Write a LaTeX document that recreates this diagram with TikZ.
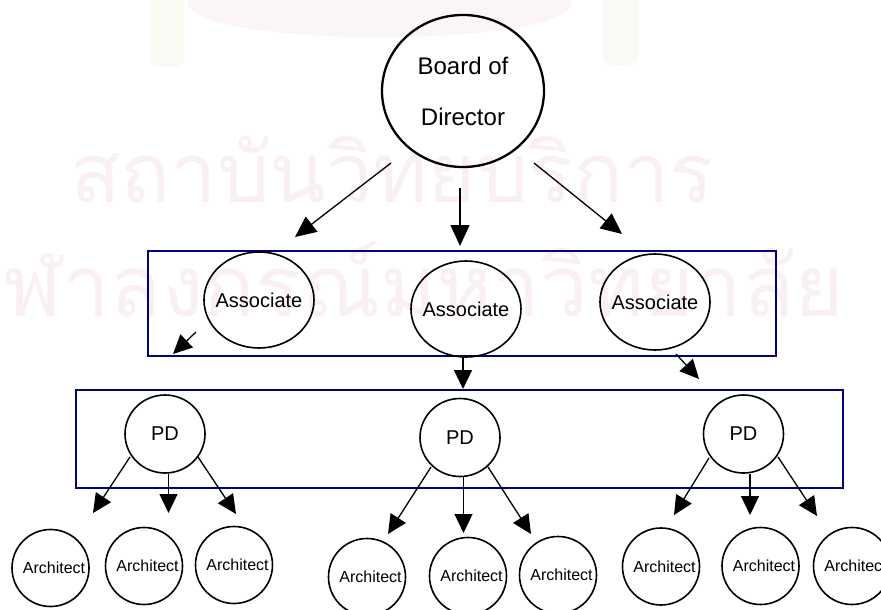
\documentclass[tikz,border=0pt]{standalone}
\usepackage{fontspec}
\setmainfont{Liberation Sans}
\newfontfamily\thaifont[Script=Thai]{Loma}
\usetikzlibrary{shapes.geometric,arrows.meta}

\definecolor{boxblue}{RGB}{0,0,128}
\definecolor{wmpink}{RGB}{250,240,244}
\definecolor{crestpink}{RGB}{252,245,247}
\definecolor{crestbeige}{RGB}{251,249,243}

\newlength\wmwidth
\newcommand\wmlineone{สถาบันวิทยบริการ}
\newcommand\wmlinetwo{จุฬาลงกรณ์มหาวิทยาลัย}

\tikzset{
  oval/.style={draw=black, ellipse, line width=1.6pt, inner sep=0pt},
  boardoval/.style={oval, line width=2.3pt, align=center,
    minimum width=162pt, minimum height=152pt, font=\fontsize{24}{51}\selectfont},
  assocoval/.style={oval, inner xsep=-14pt, minimum width=110pt, minimum height=96pt,
    font=\fontsize{20}{24}\selectfont},
  pdoval/.style={oval, minimum width=80pt, minimum height=78pt,
    font=\fontsize{20}{24}\selectfont},
  archoval/.style={oval, inner xsep=-14pt, minimum width=77pt, minimum height=77pt,
    font=\fontsize{16}{19}\selectfont, execute at begin node={\hspace*{7pt}}},
  groupbox/.style={draw=boxblue, line width=2pt, rectangle, inner sep=0pt},
  link/.style={line width=1.3pt, -{Triangle[length=19pt,width=18pt]}},
  biglink/.style={line width=1.3pt, -{Triangle[length=21pt,width=19pt]}},
  watermark/.style={text=wmpink, inner sep=0pt},
}

\begin{document}
\settowidth{\wmwidth}{\thaifont\wmlineone}
\pgfmathsetmacro\wmscale{644/\wmwidth}
\pgfmathsetmacro\wmscaletwo{1.03*\wmscale}
\begin{tikzpicture}[x=1pt,y=-1pt]
\useasboundingbox (0,0) rectangle (881,610);
\clip (0,0) rectangle (881,610);

% faint crest and institute name behind the chart
\fill[crestpink] (188,0) -- (188,5) .. controls (205,48) and (555,48) .. (572,5) -- (572,0) -- cycle;
\fill[crestbeige, rounded corners=8pt] (150,-10) rectangle (184,67);
\fill[crestbeige, rounded corners=8pt] (603,-10) rectangle (638,65);
\node[watermark, anchor=base west] (wmtop) at (70,202)
  {\scalebox{\wmscale}{\thaifont\wmlineone}};
\node[watermark, anchor=base east] (wmbottom) at (845,316)
  {\scalebox{\wmscaletwo}{\thaifont\wmlinetwo}};

% group frames
\node[groupbox, minimum width=628pt, minimum height=105pt] (assocgroup) at (462,303.5) {};
\node[groupbox, minimum width=767pt, minimum height=98pt] (pdgroup) at (459.5,439) {};

% board
\node[boardoval] (board) at (463,91) {Board of\\Director};

% associates
\node[assocoval] (assoc1) at (259,300) {Associate};
\node[assocoval] (assoc2) at (466,309) {Associate};
\node[assocoval] (assoc3) at (655,302) {Associate};

% project directors
\node[pdoval] (pd1) at (165,434) {PD};
\node[pdoval] (pd2) at (460,437.5) {PD};
\node[pdoval] (pd3) at (743.5,434) {PD};

% architects
\node[archoval] (arch1) at (50.5,568) {Architect};
\node[archoval] (arch2) at (144,566) {Architect};
\node[archoval] (arch3) at (234,565) {Architect};
\node[archoval] (arch4) at (367,577) {Architect};
\node[archoval] (arch5) at (468,576) {Architect};
\node[archoval] (arch6) at (558,575) {Architect};
\node[archoval] (arch7) at (661,566.5) {Architect};
\node[archoval] (arch8) at (760.5,566) {Architect};
\node[archoval] (arch9) at (852,566) {Architect};

% arrow end points
\coordinate (b1s) at (391,163);   \coordinate (b1t) at (295,237);
\coordinate (b2s) at (460,188);   \coordinate (b2t) at (460,246);
\coordinate (b3s) at (534,163);   \coordinate (b3t) at (622,234);
\coordinate (a1s) at (196,332);   \coordinate (a1t) at (173,354);
\coordinate (a2s) at (463,357);   \coordinate (a2t) at (463,389);
\coordinate (a3s) at (676,354);   \coordinate (a3t) at (699,379);
\coordinate (p1ls) at (130,457);  \coordinate (p1lt) at (93,513);
\coordinate (p1ms) at (168.5,474);\coordinate (p1mt) at (168.5,513);
\coordinate (p1rs) at (198,457);  \coordinate (p1rt) at (236,514);
\coordinate (p2ls) at (431,467);  \coordinate (p2lt) at (388,534);
\coordinate (p2ms) at (463.5,477);\coordinate (p2mt) at (463.5,533);
\coordinate (p2rs) at (488,467);  \coordinate (p2rt) at (531,534);
\coordinate (p3ls) at (709,458);  \coordinate (p3lt) at (674,515);
\coordinate (p3ms) at (750,474);  \coordinate (p3mt) at (750,515);
\coordinate (p3rs) at (778,457);  \coordinate (p3rt) at (817,516);

% connectors
\draw[biglink] (b1s) -- (b1t);
\draw[biglink] (b2s) -- (b2t);
\draw[biglink] (b3s) -- (b3t);
\draw[link] (a1s) -- (a1t);
\draw[link] (a2s) -- (a2t);
\draw[link] (a3s) -- (a3t);
\draw[link] (p1ls) -- (p1lt);
\draw[link] (p1ms) -- (p1mt);
\draw[link] (p1rs) -- (p1rt);
\draw[link] (p2ls) -- (p2lt);
\draw[link] (p2ms) -- (p2mt);
\draw[link] (p2rs) -- (p2rt);
\draw[link] (p3ls) -- (p3lt);
\draw[link] (p3ms) -- (p3mt);
\draw[link] (p3rs) -- (p3rt);
\end{tikzpicture}
\end{document}
